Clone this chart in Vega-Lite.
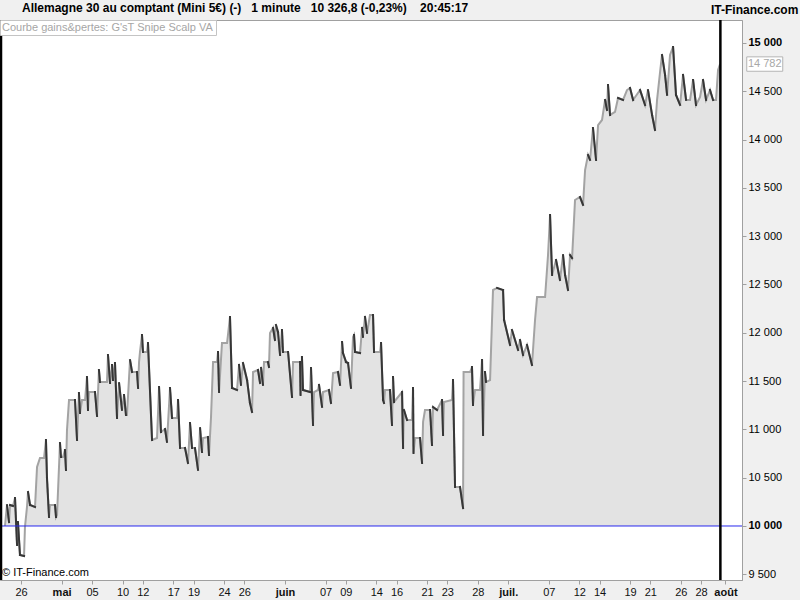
{
  "$schema": "https://vega.github.io/schema/vega-lite/v6.json",
  "width": 742,
  "height": 560,
  "autosize": {"type": "none"},
  "padding": {"left": 0, "top": 20, "right": 58, "bottom": 20},
  "background": "#f0f0f0",
  "title": {
    "text": "Allemagne 30 au comptant (Mini 5€) (-)\u00a0\u00a0\u00a01 minute\u00a0\u00a0\u00a010 326,8 (-0,23%)\u00a0\u00a0\u00a0\u00a020:45:17",
    "anchor": "start",
    "frame": "group",
    "offset": -11,
    "dx": 22,
    "fontSize": 12,
    "fontWeight": "bold",
    "font": "Liberation Sans",
    "color": "#000000"
  },
  "config": {
    "view": {"fill": "#ffffff", "stroke": "#a0a0a0"},
    "font": "Liberation Sans",
    "locale": {"number": {"decimal": ",", "thousands": " ", "grouping": [3], "currency": ["", " €"]}},
    "axis": {"labelOverlap": false},
    "legend": {"padding": 2, "symbolSize": 0, "symbolStrokeWidth": 0, "symbolOpacity": 0, "labelOffset": -11, "labelLimit": 600, "labelFont": "Liberation Sans", "rowPadding": 0}
  },
  "datasets": {
    "eq": [
      {"t": -1.58, "v": 10000}, {"t": -1.38, "v": 10217}, {"t": -1.18, "v": 10041}, {"t": -1.08, "v": 10217}, {"t": -0.79, "v": 10207},
      {"t": -0.59, "v": 10290}, {"t": -0.39, "v": 9803}, {"t": -0.30, "v": 10041}, {"t": -0.10, "v": 9700}, {"t": 0.30, "v": 9689},
      {"t": 0.39, "v": 9990}, {"t": 0.59, "v": 10197}, {"t": 0.69, "v": 10352}, {"t": 0.89, "v": 10217}, {"t": 1.38, "v": 10197},
      {"t": 1.58, "v": 10611}, {"t": 1.87, "v": 10704}, {"t": 2.27, "v": 10704}, {"t": 2.46, "v": 10890}, {"t": 2.56, "v": 10497},
      {"t": 2.76, "v": 10093}, {"t": 2.86, "v": 10217}, {"t": 3.35, "v": 10217}, {"t": 3.45, "v": 10093}, {"t": 3.55, "v": 10114},
      {"t": 3.84, "v": 10859}, {"t": 3.94, "v": 10714}, {"t": 4.14, "v": 10714}, {"t": 4.33, "v": 10787}, {"t": 4.43, "v": 10580},
      {"t": 4.53, "v": 10994}, {"t": 4.73, "v": 11304}, {"t": 5.32, "v": 11304}, {"t": 5.52, "v": 10890}, {"t": 5.71, "v": 11377},
      {"t": 5.81, "v": 11170}, {"t": 6.01, "v": 11304}, {"t": 6.31, "v": 11304}, {"t": 6.50, "v": 11542}, {"t": 6.60, "v": 11201},
      {"t": 6.70, "v": 11387}, {"t": 7.29, "v": 11387}, {"t": 7.49, "v": 11139}, {"t": 7.68, "v": 11615}, {"t": 7.78, "v": 11491},
      {"t": 8.47, "v": 11491}, {"t": 8.57, "v": 11770}, {"t": 8.77, "v": 11480}, {"t": 8.97, "v": 11667}, {"t": 9.06, "v": 11511},
      {"t": 9.26, "v": 11687}, {"t": 9.46, "v": 11118}, {"t": 9.66, "v": 11480}, {"t": 9.95, "v": 11201}, {"t": 10.15, "v": 11356},
      {"t": 10.34, "v": 11149}, {"t": 10.44, "v": 11149}, {"t": 10.74, "v": 11718}, {"t": 10.94, "v": 11594}, {"t": 11.43, "v": 11594},
      {"t": 11.53, "v": 11429}, {"t": 11.63, "v": 11698}, {"t": 11.72, "v": 11801}, {"t": 11.92, "v": 11977}, {"t": 12.02, "v": 11801},
      {"t": 12.41, "v": 11801}, {"t": 12.51, "v": 11894}, {"t": 12.61, "v": 11646}, {"t": 12.91, "v": 10890}, {"t": 13.40, "v": 10911},
      {"t": 13.60, "v": 11439}, {"t": 13.79, "v": 10973}, {"t": 14.19, "v": 11004}, {"t": 14.38, "v": 10870}, {"t": 14.68, "v": 11429},
      {"t": 14.88, "v": 11118}, {"t": 15.37, "v": 11118}, {"t": 15.47, "v": 11304}, {"t": 15.67, "v": 10807}, {"t": 16.16, "v": 10807},
      {"t": 16.45, "v": 10652}, {"t": 16.65, "v": 11066}, {"t": 16.85, "v": 10807}, {"t": 17.14, "v": 10807}, {"t": 17.44, "v": 10580},
      {"t": 17.64, "v": 11014}, {"t": 17.83, "v": 10766}, {"t": 17.93, "v": 10911}, {"t": 18.42, "v": 10921}, {"t": 18.52, "v": 10735},
      {"t": 18.72, "v": 11128}, {"t": 18.92, "v": 11698}, {"t": 19.31, "v": 11698}, {"t": 19.41, "v": 11801}, {"t": 19.51, "v": 11387},
      {"t": 19.80, "v": 11894}, {"t": 20.30, "v": 11894}, {"t": 20.59, "v": 12164}, {"t": 20.79, "v": 11429}, {"t": 21.28, "v": 11408},
      {"t": 21.48, "v": 11667}, {"t": 21.67, "v": 11460}, {"t": 21.87, "v": 11687}, {"t": 22.27, "v": 11511}, {"t": 22.56, "v": 11273},
      {"t": 22.76, "v": 11180}, {"t": 22.86, "v": 11594}, {"t": 23.35, "v": 11615}, {"t": 23.55, "v": 11480}, {"t": 23.65, "v": 11636},
      {"t": 23.84, "v": 11460}, {"t": 23.94, "v": 11698}, {"t": 24.33, "v": 11698}, {"t": 24.43, "v": 11646}, {"t": 24.53, "v": 11998},
      {"t": 24.83, "v": 12050}, {"t": 25.02, "v": 11925}, {"t": 25.12, "v": 12081}, {"t": 25.32, "v": 12008}, {"t": 25.52, "v": 11770},
      {"t": 25.71, "v": 12029}, {"t": 25.81, "v": 11801}, {"t": 26.31, "v": 11801}, {"t": 26.70, "v": 11335}, {"t": 26.80, "v": 11698},
      {"t": 27.49, "v": 11698}, {"t": 27.54, "v": 11356}, {"t": 27.68, "v": 11749}, {"t": 27.78, "v": 11408}, {"t": 28.47, "v": 11387},
      {"t": 28.57, "v": 11636}, {"t": 28.77, "v": 11046}, {"t": 28.87, "v": 11387}, {"t": 29.26, "v": 11408}, {"t": 29.36, "v": 11460},
      {"t": 29.66, "v": 11232}, {"t": 29.75, "v": 11387}, {"t": 30.34, "v": 11408}, {"t": 30.54, "v": 11273}, {"t": 30.74, "v": 11584},
      {"t": 31.23, "v": 11594}, {"t": 31.43, "v": 11460}, {"t": 31.63, "v": 11905}, {"t": 31.72, "v": 11791}, {"t": 32.02, "v": 11698},
      {"t": 32.22, "v": 11687}, {"t": 32.51, "v": 11429}, {"t": 32.71, "v": 11957}, {"t": 32.81, "v": 11977}, {"t": 32.91, "v": 11801},
      {"t": 33.40, "v": 11791}, {"t": 33.60, "v": 12050}, {"t": 33.69, "v": 11957}, {"t": 33.89, "v": 12164}, {"t": 34.09, "v": 11998},
      {"t": 34.38, "v": 12184}, {"t": 34.68, "v": 12184}, {"t": 34.78, "v": 11801}, {"t": 35.37, "v": 11801}, {"t": 35.47, "v": 11894},
      {"t": 35.67, "v": 11304}, {"t": 35.76, "v": 11273}, {"t": 35.86, "v": 11408}, {"t": 36.35, "v": 11408}, {"t": 36.55, "v": 11046},
      {"t": 36.65, "v": 11542}, {"t": 36.75, "v": 11284}, {"t": 37.54, "v": 11387}, {"t": 37.64, "v": 10807}, {"t": 37.73, "v": 11201},
      {"t": 38.03, "v": 11097}, {"t": 38.52, "v": 11097}, {"t": 38.62, "v": 11429}, {"t": 38.67, "v": 10756}, {"t": 38.82, "v": 10911},
      {"t": 39.31, "v": 10911}, {"t": 39.51, "v": 10652}, {"t": 39.61, "v": 11077}, {"t": 39.80, "v": 11201}, {"t": 40.30, "v": 11201},
      {"t": 40.49, "v": 10839}, {"t": 40.59, "v": 11232}, {"t": 40.99, "v": 11201}, {"t": 41.48, "v": 11304}, {"t": 41.58, "v": 10942},
      {"t": 41.67, "v": 11284}, {"t": 42.46, "v": 11304}, {"t": 42.56, "v": 11511}, {"t": 42.76, "v": 10404}, {"t": 43.25, "v": 10404},
      {"t": 43.55, "v": 10186}, {"t": 43.60, "v": 11594}, {"t": 44.24, "v": 11594}, {"t": 44.43, "v": 11646}, {"t": 44.53, "v": 11253},
      {"t": 44.73, "v": 11408}, {"t": 45.22, "v": 11408}, {"t": 45.42, "v": 11718}, {"t": 45.52, "v": 10942}, {"t": 45.71, "v": 11594},
      {"t": 45.81, "v": 11491}, {"t": 46.21, "v": 11511}, {"t": 46.50, "v": 12443}, {"t": 46.90, "v": 12464}, {"t": 47.49, "v": 12443},
      {"t": 47.59, "v": 12133}, {"t": 48.18, "v": 11874}, {"t": 48.37, "v": 12029}, {"t": 48.97, "v": 11822}, {"t": 49.16, "v": 11925},
      {"t": 49.46, "v": 11770}, {"t": 49.85, "v": 11874}, {"t": 50.34, "v": 11667}, {"t": 50.64, "v": 12133}, {"t": 50.84, "v": 12371},
      {"t": 51.63, "v": 12371}, {"t": 51.92, "v": 12805}, {"t": 52.12, "v": 13219}, {"t": 52.32, "v": 12598}, {"t": 52.71, "v": 12754},
      {"t": 53.10, "v": 12547}, {"t": 53.40, "v": 12805}, {"t": 53.60, "v": 12598}, {"t": 53.89, "v": 12443}, {"t": 54.09, "v": 12805},
      {"t": 54.29, "v": 12774}, {"t": 54.58, "v": 13375}, {"t": 55.07, "v": 13406}, {"t": 55.37, "v": 13323}, {"t": 55.57, "v": 13685},
      {"t": 55.86, "v": 13841}, {"t": 56.06, "v": 13789}, {"t": 56.35, "v": 14120}, {"t": 56.65, "v": 13789}, {"t": 56.85, "v": 14151},
      {"t": 57.24, "v": 14203}, {"t": 57.54, "v": 14410}, {"t": 57.73, "v": 14306}, {"t": 57.83, "v": 14565}, {"t": 58.03, "v": 14255},
      {"t": 58.52, "v": 14286}, {"t": 58.82, "v": 14431}, {"t": 59.31, "v": 14410}, {"t": 59.70, "v": 14513}, {"t": 60.00, "v": 14534},
      {"t": 60.30, "v": 14410}, {"t": 60.99, "v": 14513}, {"t": 61.48, "v": 14358}, {"t": 61.77, "v": 14513}, {"t": 62.17, "v": 14255},
      {"t": 62.46, "v": 14099}, {"t": 62.66, "v": 14410}, {"t": 62.96, "v": 14700}, {"t": 63.15, "v": 14876}, {"t": 63.45, "v": 14669},
      {"t": 63.65, "v": 14462}, {"t": 63.94, "v": 14876}, {"t": 64.24, "v": 14959}, {"t": 64.53, "v": 14462}, {"t": 64.93, "v": 14358},
      {"t": 65.22, "v": 14669}, {"t": 65.52, "v": 14410}, {"t": 65.91, "v": 14410}, {"t": 66.21, "v": 14617}, {"t": 66.50, "v": 14358},
      {"t": 66.90, "v": 14441}, {"t": 67.19, "v": 14617}, {"t": 67.49, "v": 14410}, {"t": 67.88, "v": 14513}, {"t": 68.18, "v": 14410},
      {"t": 68.47, "v": 14410}, {"t": 68.67, "v": 14721}, {"t": 68.87, "v": 14782}
    ]
  },
  "data": {"name": "eq"},
  "layer": [
    {
      "mark": {"type": "area", "opacity": 1},
      "encoding": {
        "x": {
          "field": "t", "type": "quantitative",
          "scale": {"domain": [-2.069, 71.03], "nice": false, "zero": false},
          "axis": {
            "values": [0, 4, 7, 10, 12, 15, 17, 20, 22, 26, 30, 32, 35, 37, 40, 42, 45, 48, 52, 55, 57, 60, 62, 65, 67, 69.4],
            "tickCount": 60,
            "labelExpr": "['26','mai','05','10','12','17','19','24','26','juin','07','09','14','16','21','23','28','juil.','07','12','14','19','21','26','28','août'][indexof([0,4,7,10,12,15,17,20,22,26,30,32,35,37,40,42,45,48,52,55,57,60,62,65,67,69.4], datum.value)]",
            "title": null, "grid": false, "tickSize": 4, "tickColor": "#a0a0a0", "domainColor": "#a0a0a0",
            "labelFontSize": 11, "labelColor": "#111111", "labelPadding": 2, "labelOverlap": false, "labelFlush": false, "labelBound": false,
            "labelFont": "Liberation Sans",
            "labelFontWeight": {"condition": {"test": "indexof([4,26,48,69.4], datum.value) >= 0", "value": "bold"}, "value": "normal"}
          }
        },
        "y": {
          "field": "v", "type": "quantitative",
          "scale": {"domain": [9441, 15238], "nice": false, "zero": false},
          "axis": {
            "orient": "right",
            "values": [9500, 10000, 10500, 11000, 11500, 12000, 12500, 13000, 13500, 14000, 14500, 15000],
            "tickCount": 30,
            "format": ",d", "title": null, "grid": false, "tickSize": 4, "tickColor": "#a0a0a0", "domainColor": "#a0a0a0",
            "labelFontSize": 11, "labelColor": "#000000", "labelPadding": 2, "labelFlush": false, "labelBound": false, "labelOverlap": false,
            "labelFont": "Liberation Sans",
            "labelFontWeight": {"condition": {"test": "datum.value == 10000 || datum.value == 15000", "value": "bold"}, "value": "normal"}
          }
        },
        "y2": {"datum": 10000},
        "fill": {
          "datum": "Courbe gains&pertes: G'sT Snipe Scalp VA", "type": "nominal",
          "scale": {"range": ["#e3e3e3"]},
          "legend": {"title": null, "orient": "top-left", "offset": 0, "strokeColor": "#c4c4c4", "fillColor": "#ffffff", "labelColor": "#a6a6a6", "labelFontSize": 11, "padding": 2}
        }
      }
    },
    {
      "data": {"values": [{}]},
      "mark": {"type": "rect", "color": "#ffffff"},
      "encoding": {
        "y": {"datum": 10000},
        "y2": {"datum": 9441}
      }
    },
    {
      "mark": {"type": "line", "color": "#a3a3a3", "strokeWidth": 2},
      "encoding": {
        "x": {"field": "t", "type": "quantitative"},
        "y": {"field": "v", "type": "quantitative"}
      }
    },
    {
      "transform": [
        {"window": [{"op": "lag", "field": "t", "as": "t0"}, {"op": "lag", "field": "v", "as": "v0"}]},
        {"filter": "datum.v0 != null && datum.v < datum.v0"}
      ],
      "mark": {"type": "rule", "color": "#363636", "strokeWidth": 2, "strokeCap": "square"},
      "encoding": {
        "x": {"field": "t0", "type": "quantitative"},
        "x2": {"field": "t"},
        "y": {"field": "v0", "type": "quantitative"},
        "y2": {"field": "v"}
      }
    },
    {
      "data": {"values": [{}]},
      "mark": {"type": "rule", "strokeWidth": 1},
      "encoding": {
        "y": {"datum": 10000},
        "stroke": {
          "datum": "© IT-Finance.com", "type": "nominal",
          "scale": {"range": ["#2828ee"]},
          "legend": {"title": null, "orient": "bottom-left", "offset": 0, "labelColor": "#000000", "labelFontSize": 11, "padding": 2}
        }
      }
    },
    {
      "data": {"values": [{"t": -1.97}, {"t": 68.9}]},
      "mark": {"type": "rule", "strokeWidth": 2.5},
      "encoding": {
        "x": {"field": "t", "type": "quantitative"},
        "color": {
          "datum": "IT-Finance.com", "type": "nominal",
          "scale": {"range": ["#000000"]},
          "legend": {"title": null, "orient": "none", "legendX": 710, "legendY": -16, "labelFontSize": 12, "labelFontWeight": "bold", "labelColor": "#000000", "padding": 0}
        }
      }
    },
    {
      "transform": [{"filter": "datum.t > 68.8"}],
      "mark": {"type": "point", "shape": "M-1,-0.4H1V0.4H-1Z", "size": 1296, "filled": true, "fill": "#ffffff", "stroke": "#b4b4b4", "strokeWidth": 1, "opacity": 1},
      "encoding": {
        "x": {"datum": 73.27},
        "y": {"field": "v", "type": "quantitative"}
      }
    },
    {
      "transform": [{"filter": "datum.t > 68.8"}],
      "mark": {"type": "text", "fontSize": 11, "color": "#a8a8a8", "align": "center", "baseline": "middle", "font": "Liberation Sans"},
      "encoding": {
        "x": {"datum": 73.27},
        "y": {"field": "v", "type": "quantitative"},
        "text": {"field": "v", "type": "quantitative", "format": ",d"}
      }
    }
  ]
}
